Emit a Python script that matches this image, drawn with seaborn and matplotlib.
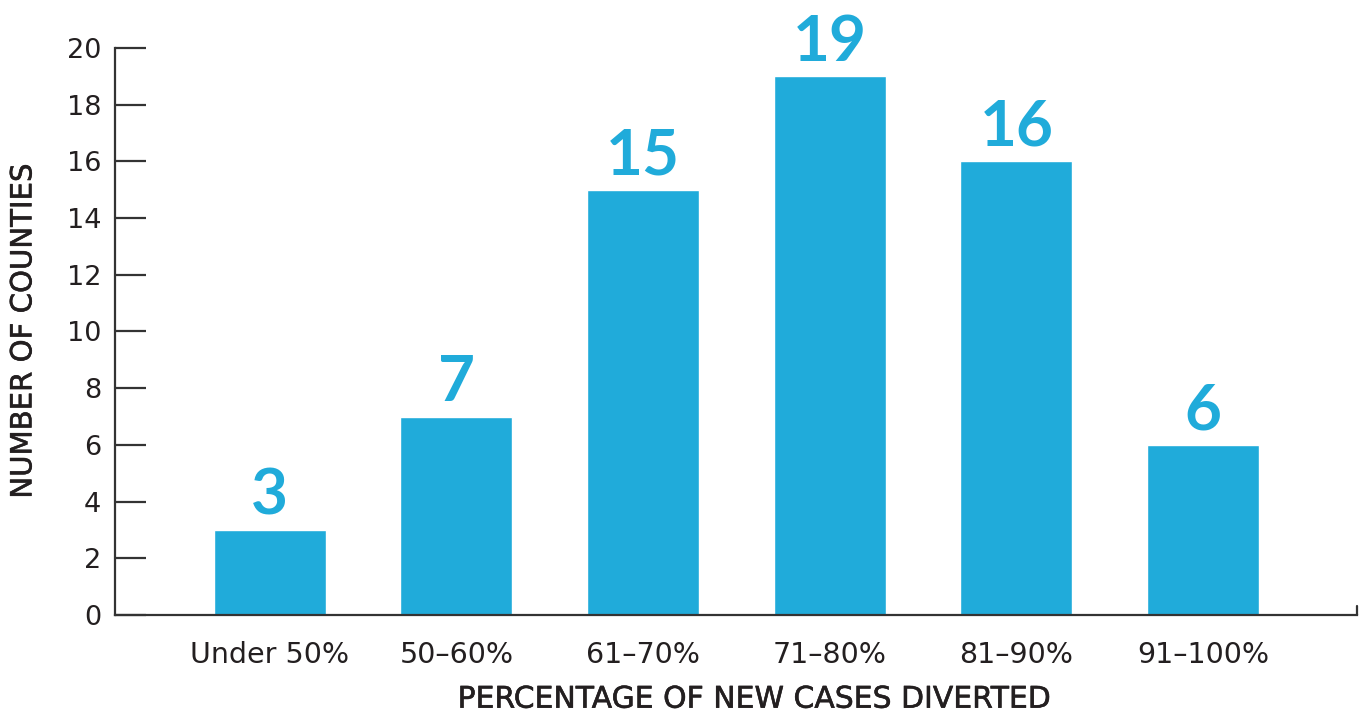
import matplotlib
matplotlib.use("Agg")
import matplotlib.pyplot as plt
import matplotlib.patheffects as pe
import seaborn as sns
import pandas as pd

categories = ["Under 50%", "50\u201360%", "61\u201370%", "71\u201380%", "81\u201390%", "91\u2013100%"]
counties = [3, 7, 15, 19, 16, 6]
y_ticks = [0, 2, 4, 6, 8, 10, 12, 14, 16, 18, 20]

sns.set_theme(style="white")
plt.rcParams['font.family'] = ['DejaVu Sans']

bar_color = "#20ABDA"
text_color = "#231F20"
axis_color = "#333333"

df = pd.DataFrame({"cat": categories, "n": counties})

fig = plt.figure(figsize=(13.62, 7.14), dpi=100)
ax = fig.add_axes([0.0844, 0.1387, 0.9119, 0.7941])

sns.barplot(data=df, x="cat", y="n", color=bar_color, saturation=1, width=0.6, ax=ax)

ax.set_ylim(0, 20)
ax.set_xlim(-0.83, 5.825)
ax.set_yticks(y_ticks)
ax.set_yticklabels([str(t) for t in y_ticks])

for s in ["top", "right"]:
    ax.spines[s].set_visible(False)
for s in ["left", "bottom"]:
    ax.spines[s].set_color(axis_color)
    ax.spines[s].set_linewidth(1.6)

ax.tick_params(axis="y", left=True, direction="in", length=22, width=1.6, color=axis_color,
               pad=10, labelsize=19.5, labelcolor=text_color)
ax.tick_params(axis="x", bottom=False, length=0, pad=19, labelsize=20.5, labelcolor=text_color)

# small end tick at the right end of the x axis
ax.plot([1, 1], [0, 0.016], transform=ax.transAxes, color=axis_color, lw=1.6, clip_on=False)

for c in ax.containers:
    labels = ax.bar_label(c, labels=[str(v) for v in counties], padding=4,
                          fontsize=46, fontweight="bold", color=bar_color,
                          family=['Lato', 'DejaVu Sans'])
    for t in labels:
        t.set_clip_on(False)

medium = [pe.withStroke(linewidth=0.4, foreground=text_color)]
xl = ax.set_xlabel("PERCENTAGE OF NEW CASES DIVERTED", fontsize=21.5,
                   color=text_color, labelpad=10)
yl = ax.set_ylabel("NUMBER OF COUNTIES", fontsize=21, color=text_color, labelpad=21)
xl.set_path_effects(medium)
yl.set_path_effects(medium)
ax.xaxis.set_label_coords(0.5145, -0.123)

fig.savefig("out.png", dpi=100)
